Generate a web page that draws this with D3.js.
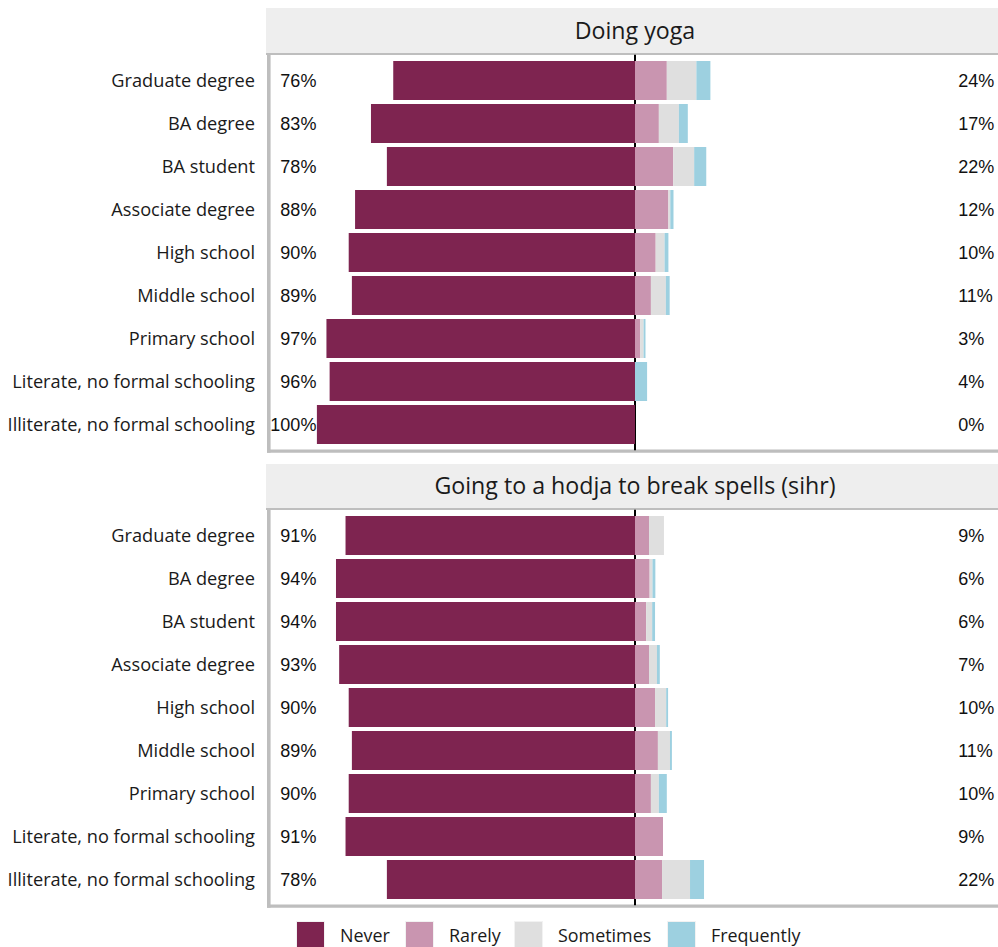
<!DOCTYPE html>
<html><head><meta charset="utf-8">
<script src="https://cdn.jsdelivr.net/npm/d3@7"></script>
<style>body{margin:0;background:#fff}svg{display:block}</style>
</head><body>
<script>
const categories = ["Graduate degree","BA degree","BA student","Associate degree","High school","Middle school","Primary school","Literate, no formal schooling","Illiterate, no formal schooling"];
const panels = ["Doing yoga","Going to a hodja to break spells (sihr)"];
const levels = ["Never","Rarely","Sometimes","Frequently"];
const colors = ["#7e2450","#c995b0","#dfdfdf","#9dd0e0"];
// panel 1: Doing yoga
const yogaNever      = [76, 83, 78, 88, 90, 89, 97, 96, 100];
const yogaRarely     = [10, 7.5, 12, 10.5, 6.5, 5, 1.6, 0, 0];
const yogaSometimes  = [9.3, 6.3, 6.6, 0.6, 2.8, 4.7, 1.1, 0, 0];
const yogaFrequently = [4.4, 2.8, 3.8, 1, 1.2, 1.2, 0.6, 3.8, 0];
const yogaLow  = ["76%","83%","78%","88%","90%","89%","97%","96%","100%"];
const yogaHigh = ["24%","17%","22%","12%","10%","11%","3%","4%","0%"];
// panel 2: hodja
const hodjaNever      = [91, 94, 94, 93, 90, 89, 90, 91, 78];
const hodjaRarely     = [4.4, 4.6, 3.5, 4.4, 6.3, 7.2, 5, 8.8, 8.5];
const hodjaSometimes  = [4.7, 0.9, 1.9, 2.5, 3.5, 3.8, 2.5, 0, 8.8];
const hodjaFrequently = [0, 0.9, 0.9, 0.9, 0.6, 0.6, 2.5, 0, 4.4];
const hodjaLow  = ["91%","94%","94%","93%","90%","89%","90%","91%","78%"];
const hodjaHigh = ["9%","6%","6%","7%","10%","11%","10%","9%","22%"];

const W = 998, H = 947;
const svg = d3.select("body").append("svg").attr("width", W).attr("height", H);

const x = d3.scaleLinear().domain([-116, 116]).range([266, 1004]);

const panelDefs = [
  {title: panels[0], never: yogaNever, rar: yogaRarely, som: yogaSometimes, fre: yogaFrequently, low: yogaLow, high: yogaHigh, stripTop: 8, top: 54.7, bottom: 450.3},
  {title: panels[1], never: hodjaNever, rar: hodjaRarely, som: hodjaSometimes, fre: hodjaFrequently, low: hodjaLow, high: hodjaHigh, stripTop: 464, top: 509.7, bottom: 905.3}
];

panelDefs.forEach(p => {
  const g = svg.append("g");
  const pi = 0.093;
  const y = d3.scaleBand().domain(categories).range([p.top, p.bottom]).paddingInner(pi).paddingOuter(0.1 + pi / 2);
  // strip
  g.append("rect").attr("x", 266).attr("y", p.stripTop).attr("width", W - 266).attr("height", p.top - p.stripTop - 1.7).attr("fill", "#eeeeee");
  g.append("text").attr("x", 635).attr("y", (p.stripTop + p.top) / 2 + 7.5).attr("text-anchor", "middle")
    .attr("font-family", "Open Sans").attr("font-size", 23.2).attr("fill", "#1a1a1a").text(p.title);
  // panel borders
  g.append("line").attr("x1", 266).attr("x2", W).attr("y1", p.top - 0.8).attr("y2", p.top - 0.8).attr("stroke", "#bebebe").attr("stroke-width", 2);
  g.append("line").attr("x1", 268.8).attr("x2", 268.8).attr("y1", p.top - 1.7).attr("y2", p.bottom + 2.5).attr("stroke", "#bebebe").attr("stroke-width", 3.6);
  g.append("line").attr("x1", 267).attr("x2", W).attr("y1", p.bottom + 0.9).attr("y2", p.bottom + 0.9).attr("stroke", "#bebebe").attr("stroke-width", 3.2);
  // center line
  g.append("line").attr("x1", x(0)).attr("x2", x(0)).attr("y1", p.top).attr("y2", p.bottom).attr("stroke", "#000").attr("stroke-width", 2);
  // bars
  categories.forEach((c, i) => {
    const yy = y(c), h = y.bandwidth();
    g.append("rect").attr("x", x(-p.never[i])).attr("y", yy).attr("width", x(0) - x(-p.never[i])).attr("height", h).attr("fill", colors[0]);
    let acc = 0;
    [p.rar[i], p.som[i], p.fre[i]].forEach((v, k) => {
      if (v > 0) g.append("rect").attr("x", x(acc)).attr("y", yy).attr("width", x(acc + v) - x(acc)).attr("height", h).attr("fill", colors[k + 1]);
      acc += v;
    });
    g.append("text").attr("x", x(-100) - 0.5).attr("y", yy + h / 2 + 6.3).attr("text-anchor", "end")
      .attr("font-family", "Liberation Sans").attr("font-size", 18).attr("fill", "#111").text(p.low[i]);
    g.append("text").attr("x", x(101.6)).attr("y", yy + h / 2 + 6.3).attr("text-anchor", "start")
      .attr("font-family", "Liberation Sans").attr("font-size", 18).attr("fill", "#111").text(p.high[i]);
  });
  // y axis labels
  const ax = d3.axisLeft(y).tickSize(0).tickPadding(0);
  const axg = g.append("g").attr("transform", "translate(255,0)").call(ax);
  axg.select(".domain").remove();
  axg.selectAll("text").attr("font-family", "Open Sans").attr("font-size", 18.2).attr("fill", "#1a1a1a").attr("dy", "0.35em");
});

// legend
const legX = [297, 406, 515, 668];
const leg = svg.append("g");
levels.forEach((l, i) => {
  leg.append("rect").attr("x", legX[i] - 1).attr("y", 921).attr("width", 29).attr("height", 29).attr("fill", "#f2f2f2");
  leg.append("rect").attr("x", legX[i]).attr("y", 922).attr("width", 27).attr("height", 27).attr("fill", colors[i]);
  leg.append("text").attr("x", legX[i] + 43).attr("y", 942).attr("font-family", "Open Sans").attr("font-size", 17.9).attr("fill", "#1a1a1a").text(l);
});
</script>
</body></html>
